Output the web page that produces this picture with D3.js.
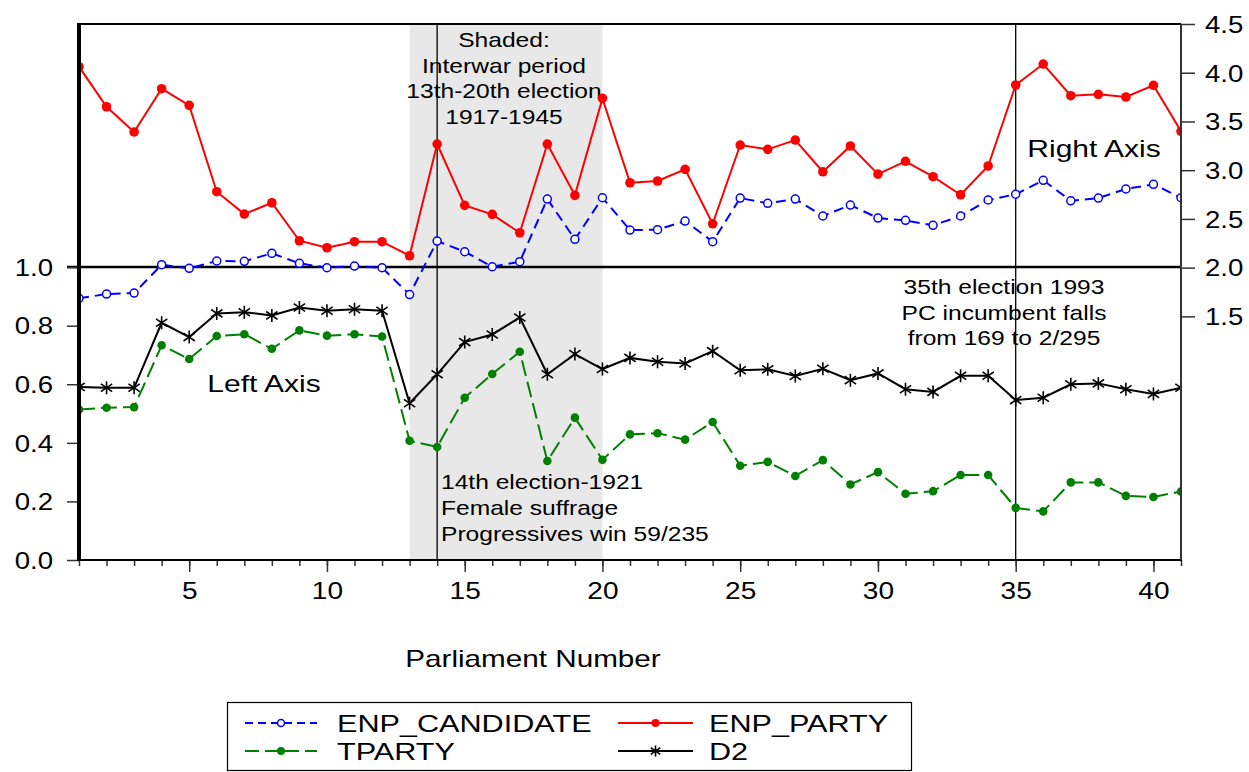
<!DOCTYPE html>
<html><head><meta charset="utf-8">
<script src="https://cdn.jsdelivr.net/npm/d3@7"></script>
<style>body{margin:0;background:#fff}svg{display:block}text{font-family:"Liberation Sans",Arial,sans-serif;fill:#000}</style>
</head><body><svg id="c" width="1249" height="772"></svg>
<script>
const parliaments = d3.range(1, 42);
const enpCandidate = [1.685,1.729,1.739,2.030,1.993,2.068,2.065,2.147,2.044,1.999,2.016,1.999,1.724,2.273,2.163,2.009,2.061,2.704,2.290,2.717,2.386,2.389,2.478,2.266,2.714,2.660,2.704,2.530,2.642,2.509,2.485,2.434,2.530,2.694,2.753,2.896,2.686,2.714,2.807,2.855,2.717];
const enpParty = [4.062,3.651,3.392,3.836,3.665,2.779,2.550,2.666,2.276,2.204,2.266,2.266,2.122,3.268,2.639,2.547,2.358,3.268,2.742,3.737,2.871,2.889,3.009,2.450,3.258,3.214,3.309,2.984,3.248,2.960,3.091,2.933,2.748,3.043,3.874,4.089,3.764,3.778,3.751,3.871,3.399];
const tparty = [0.514,0.520,0.522,0.733,0.686,0.765,0.771,0.721,0.784,0.766,0.771,0.763,0.407,0.386,0.554,0.635,0.711,0.338,0.486,0.342,0.429,0.433,0.411,0.471,0.322,0.335,0.287,0.341,0.258,0.300,0.226,0.235,0.290,0.290,0.178,0.166,0.265,0.265,0.219,0.215,0.234];
const d2 = [0.591,0.588,0.588,0.810,0.761,0.842,0.846,0.835,0.862,0.851,0.856,0.851,0.535,0.634,0.744,0.770,0.828,0.634,0.703,0.652,0.690,0.677,0.671,0.713,0.648,0.651,0.628,0.653,0.614,0.637,0.583,0.574,0.629,0.629,0.546,0.554,0.600,0.603,0.583,0.567,0.588];
const xMajorTicks = [5,10,15,20,25,30,35,40];
const leftTicks = [0.0,0.2,0.4,0.6,0.8,1.0];
const rightTicks = [1.5,2.0,2.5,3.0,3.5,4.0,4.5];
const shadedRange = [13, 20];
const eventLines = [14, 35];

const svg = d3.select("#c");
const L = 79, R = 1181, T = 24, B = 560;
const x = d3.scaleLinear().domain([1, 41]).range([L, R]);
const yL = d3.scaleLinear().domain([0, 1.83]).range([B, T]);
const yR = d3.scaleLinear().domain([-1, 4.5]).range([B, T]);

function stext(g, px, py, str, size, anchor, sx) {
  return g.append("text").attr("transform", `translate(${px},${py}) scale(${sx || 1.2},1)`)
    .attr("text-anchor", anchor || "start").style("font-size", size + "px").text(str);
}

svg.append("defs").append("clipPath").attr("id", "clip")
  .append("rect").attr("x", L).attr("y", T).attr("width", R - L).attr("height", B - T);

// shaded region
svg.append("rect").attr("x", x(shadedRange[0])).attr("y", T)
  .attr("width", x(shadedRange[1]) - x(shadedRange[0])).attr("height", B - T).attr("fill", "#e8e8e8");

// reference line 1.0
svg.append("line").attr("x1", L - 12).attr("x2", R).attr("y1", yL(1)).attr("y2", yL(1))
  .attr("stroke", "#000").attr("stroke-width", 2.5);

// event lines
eventLines.forEach(v => svg.append("line").attr("x1", x(v)).attr("x2", x(v)).attr("y1", T).attr("y2", B)
  .attr("stroke", "#000").attr("stroke-width", 1.3));

// annotations
const ann = svg.append("g");
["Shaded:", "Interwar period", "13th-20th election", "1917-1945"].forEach((s, i) =>
  stext(ann, 504, 47 + i * 25.7, s, 20.5, "middle"));
["14th election-1921", "Female suffrage", "Progressives win 59/235"].forEach((s, i) =>
  stext(ann, 441, 489 + i * 26, s, 20.5, "start"));
["35th election 1993", "PC incumbent falls", "from 169 to 2/295"].forEach((s, i) =>
  stext(ann, 1004, 294 + i * 25.7, s, 20.5, "middle"));
stext(ann, 1094, 157, "Right Axis", 24, "middle", 1.25);
stext(ann, 264, 392, "Left Axis", 24, "middle", 1.25);

// series
const plot = svg.append("g").attr("clip-path", "url(#clip)");
function drawLine(vals, ys, color, dash) {
  plot.append("path").datum(vals)
    .attr("d", d3.line().x((d, i) => x(parliaments[i])).y(d => ys(d)))
    .attr("fill", "none").attr("stroke", color).attr("stroke-width", 2)
    .attr("stroke-dasharray", dash || null);
}
drawLine(enpCandidate, yR, "#0000ff", "10,6");
drawLine(enpParty, yR, "#ff0000", null);
drawLine(tparty, yL, "#008000", "16,6");
drawLine(d2, yL, "#000", null);

function asterisk(g, cx, cy, r) {
  const p = `M${cx},${cy - r}L${cx},${cy + r}M${cx - r * 0.87},${cy - r * 0.6}L${cx + r * 0.87},${cy + r * 0.6}M${cx - r * 0.87},${cy + r * 0.6}L${cx + r * 0.87},${cy - r * 0.6}`;
  g.append("path").attr("d", p).attr("stroke", "#000").attr("stroke-width", 1.6).attr("fill", "none");
}

plot.selectAll("c.b").data(enpCandidate).enter().append("circle")
  .attr("cx", (d, i) => x(parliaments[i])).attr("cy", d => yR(d)).attr("r", 4)
  .attr("fill", "#fff").attr("stroke", "#0000ff").attr("stroke-width", 1.5);
plot.selectAll("c.r").data(enpParty).enter().append("circle")
  .attr("cx", (d, i) => x(parliaments[i])).attr("cy", d => yR(d)).attr("r", 4.8).attr("fill", "#ff0000");
plot.selectAll("c.g").data(tparty).enter().append("circle")
  .attr("cx", (d, i) => x(parliaments[i])).attr("cy", d => yL(d)).attr("r", 4.3).attr("fill", "#008000");
d2.forEach((d, i) => asterisk(plot, x(parliaments[i]), yL(d), 6.5));

// axes
const gxMinor = svg.append("g").attr("transform", `translate(0,${B})`)
  .call(d3.axisBottom(x).tickValues(parliaments).tickSize(6).tickFormat(""));
const gx = svg.append("g").attr("transform", `translate(0,${B})`)
  .call(d3.axisBottom(x).tickValues(xMajorTicks).tickSize(12).tickFormat(d3.format("d")));
gx.selectAll("text").attr("y", null).attr("dy", null)
  .attr("transform", "translate(0,39) scale(1.22,1)").style("font-size", "23px").attr("font-family", null);

const gl = svg.append("g").attr("transform", `translate(${L},0)`)
  .call(d3.axisLeft(yL).tickValues(leftTicks).tickSize(12).tickFormat(d3.format(".1f")));
gl.selectAll("text").attr("x", null).attr("dy", "0.36em")
  .attr("transform", "translate(-26,0) scale(1.2,1)").style("font-size", "23px").attr("font-family", null);

const gr = svg.append("g").attr("transform", `translate(${R},0)`)
  .call(d3.axisRight(yR).tickValues(rightTicks).tickSize(14).tickFormat(d3.format(".1f")));
gr.selectAll("text").attr("x", null).attr("dy", "0.36em")
  .attr("transform", "translate(24,0) scale(1.2,1)").style("font-size", "23px").attr("font-family", null);

[gxMinor, gx, gl, gr].forEach(g => {
  g.select(".domain").remove();
  g.selectAll("line").attr("stroke", "#333").attr("stroke-width", 1.5);
});

// frame
svg.append("line").attr("x1", L).attr("x2", R).attr("y1", T).attr("y2", T).attr("stroke", "#000").attr("stroke-width", 2);
svg.append("line").attr("x1", L - 1).attr("x2", R + 1).attr("y1", B).attr("y2", B).attr("stroke", "#000").attr("stroke-width", 2);
svg.append("line").attr("x1", R).attr("x2", R).attr("y1", T).attr("y2", B).attr("stroke", "#333").attr("stroke-width", 2);
svg.append("line").attr("x1", L).attr("x2", L).attr("y1", T - 1).attr("y2", B + 1).attr("stroke", "#000").attr("stroke-width", 4);

// x label
stext(svg, 533, 667, "Parliament Number", 23, "middle", 1.29);

// legend
const lg = svg.append("g");
lg.append("rect").attr("x", 227.5).attr("y", 702.5).attr("width", 684).attr("height", 68)
  .attr("fill", "#fff").attr("stroke", "#000").attr("stroke-width", 1.2);
const legendItems = [
  {name: "ENP_CANDIDATE", color: "#0000ff", dash: "8,5", mark: "open", x0: 245, x1: 317, tx: 337, y: 723},
  {name: "ENP_PARTY", color: "#ff0000", dash: null, mark: "dot", x0: 618, x1: 693, tx: 709, y: 723},
  {name: "TPARTY", color: "#008000", dash: "14,6", mark: "dot", x0: 245, x1: 317, tx: 337, y: 751},
  {name: "D2", color: "#000", dash: null, mark: "star", x0: 618, x1: 693, tx: 709, y: 751}
];
legendItems.forEach(it => {
  lg.append("line").attr("x1", it.x0).attr("x2", it.x1).attr("y1", it.y).attr("y2", it.y)
    .attr("stroke", it.color).attr("stroke-width", 2).attr("stroke-dasharray", it.dash);
  const cx = (it.x0 + it.x1) / 2;
  if (it.mark === "open") lg.append("circle").attr("cx", cx).attr("cy", it.y).attr("r", 3.5).attr("fill", "#fff").attr("stroke", it.color).attr("stroke-width", 1.5);
  else if (it.mark === "dot") lg.append("circle").attr("cx", cx).attr("cy", it.y).attr("r", 4).attr("fill", it.color);
  else asterisk(lg, cx, it.y, 5.5);
  stext(lg, it.tx, it.y + 8.5, it.name, 24.5, "start", 1.25);
});
</script></body></html>
